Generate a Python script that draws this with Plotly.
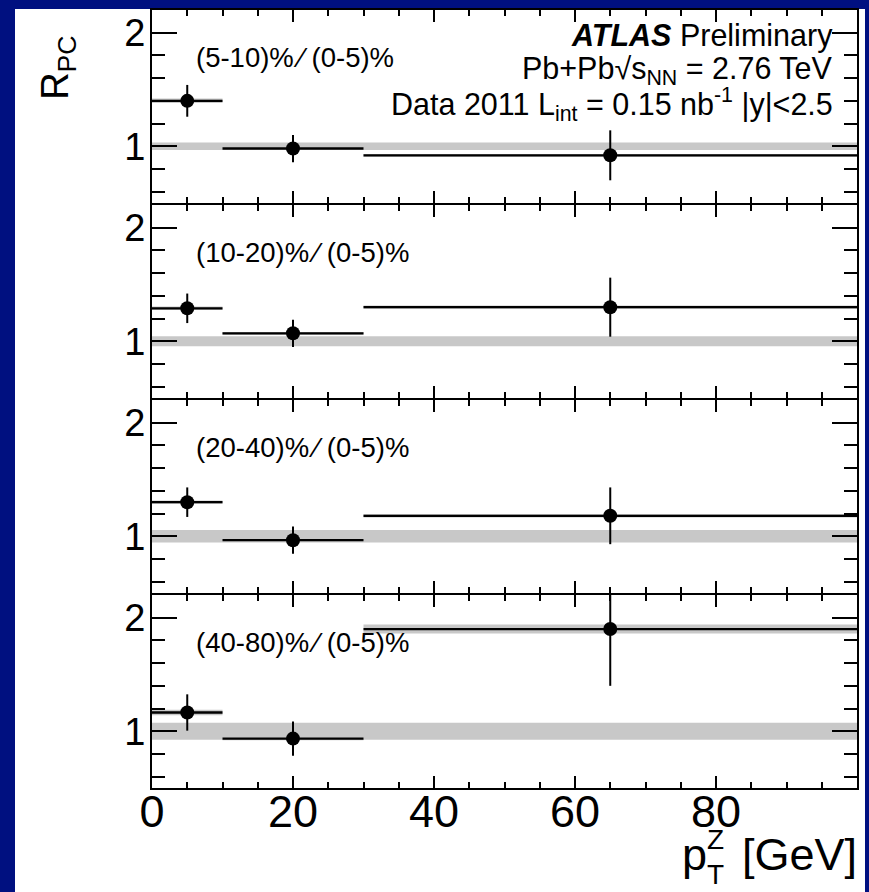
import plotly.graph_objects as go
from plotly.subplots import make_subplots

W, H = 869, 892
ML, MR, MT, MB = 152, 12, 8, 104
FONT = "Liberation Sans, Arial, Helvetica, sans-serif"

# ---- data -------------------------------------------------------------
bin_lo = [0, 10, 30]
bin_hi = [10, 30, 100]
pt_center = [5, 20, 65]

panel_labels = ["(5-10)%\u2009⁄ (0-5)%", "(10-20)%\u2009⁄ (0-5)%",
                "(20-40)%\u2009⁄ (0-5)%", "(40-80)%\u2009⁄ (0-5)%"]

rpc_5_10 = [1.40, 0.98, 0.92]
err_5_10 = [0.14, 0.12, 0.22]
sys_5_10 = [0.02, 0.012, 0.012]

rpc_10_20 = [1.29, 1.07, 1.30]
err_10_20 = [0.13, 0.12, 0.26]
sys_10_20 = [0.015, 0.012, 0.015]

rpc_20_40 = [1.30, 0.965, 1.18]
err_20_40 = [0.13, 0.12, 0.25]
sys_20_40 = [0.015, 0.012, 0.015]

rpc_40_80 = [1.165, 0.935, 1.90]
err_40_80 = [0.16, 0.15, 0.50]
sys_40_80 = [0.025, 0.015, 0.04]

norm_unc = [0.033, 0.045, 0.055, 0.074]

x_ticks = [0, 20, 40, 60, 80]
y_ticks = [1, 2]

values = [rpc_5_10, rpc_10_20, rpc_20_40, rpc_40_80]
errors = [err_5_10, err_10_20, err_20_40, err_40_80]
systs = [sys_5_10, sys_10_20, sys_20_40, sys_40_80]

# ---- figure -----------------------------------------------------------
PW = W - ML - MR
PH = H - MT - MB

fig = make_subplots(rows=4, cols=1, shared_xaxes=True,
                    vertical_spacing=2.0 / PH)

GRAY = "#c8c8c8"
for i in range(4):
    r = i + 1
    n = norm_unc[i]
    fig.add_trace(go.Scatter(
        x=[0, 100, 100, 0, 0], y=[1 - n, 1 - n, 1 + n, 1 + n, 1 - n],
        fill="toself", fillcolor=GRAY, line=dict(width=0), mode="lines",
        hoverinfo="skip", showlegend=False), row=r, col=1)
    bx, by = [], []
    for lo, hi, v, s in zip(bin_lo, bin_hi, values[i], systs[i]):
        bx += [lo, hi, hi, lo, lo, None]
        by += [v - s, v - s, v + s, v + s, v - s, None]
    fig.add_trace(go.Scatter(
        x=bx, y=by, fill="toself", fillcolor=GRAY, line=dict(width=0),
        mode="lines", hoverinfo="skip", showlegend=False), row=r, col=1)
    fig.add_trace(go.Scatter(
        x=pt_center, y=values[i], mode="markers",
        marker=dict(color="black", size=14),
        error_x=dict(type="data", symmetric=False,
                     array=[h - c for h, c in zip(bin_hi, pt_center)],
                     arrayminus=[c - l for l, c in zip(bin_lo, pt_center)],
                     color="black", thickness=2.3, width=0),
        error_y=dict(type="data", array=errors[i], color="black",
                     thickness=2, width=0),
        showlegend=False), row=r, col=1)
    fig.add_annotation(x=6, y=1.78, xref=f"x{'' if r == 1 else r}",
                       yref=f"y{'' if r == 1 else r}", text=panel_labels[i],
                       showarrow=False, xanchor="left", yanchor="middle",
                       font=dict(size=27.5, color="black", family=FONT))

fig.update_xaxes(range=[0, 100], tickmode="array", tickvals=x_ticks,
                 showline=True, linecolor="black", linewidth=2,
                 mirror="allticks", ticks="inside", ticklen=12, tickwidth=2,
                 tickcolor="black", showgrid=False, zeroline=False,
                 ticklabelstandoff=-17,
                 tickfont=dict(size=45, color="black", family=FONT),
                 minor=dict(dtick=5, tick0=0, ticks="inside", ticklen=6,
                            tickwidth=1.5, tickcolor="black", showgrid=False))
fig.update_yaxes(range=[0.5, 2.2], tickmode="array", tickvals=y_ticks,
                 showline=True, linecolor="black", linewidth=2,
                 mirror="allticks", ticks="inside", ticklen=25, tickwidth=2,
                 tickcolor="black", showgrid=False, zeroline=False,
                 ticklabelstandoff=-3,
                 tickfont=dict(size=38, color="black", family=FONT),
                 minor=dict(dtick=0.2, tick0=0, ticks="inside", ticklen=13,
                            tickwidth=1.5, tickcolor="black", showgrid=False))


def px(x):
    return (x - ML) / PW


def py(y):
    return (H - MB - y) / PH


fig.add_shape(type="rect", xref="paper", yref="paper",
              x0=px(15), x1=px(865), y0=py(905), y1=py(7),
              fillcolor="white", line=dict(width=0), layer="below")


def ann(text, x, y, size, xanchor="center", yanchor="middle", angle=0):
    fig.add_annotation(text=text, x=px(x), y=py(y), xref="paper",
                       yref="paper", showarrow=False, xanchor=xanchor,
                       yanchor=yanchor, textangle=angle,
                       font=dict(size=size, color="black", family=FONT))


ann("<b><i>ATLAS</i></b> Preliminary", 835, 34, 30.5, xanchor="right")
ann("Pb+Pb√s<sub>NN</sub> = 2.76 TeV", 835, 69, 30.5, xanchor="right")
ann("Data 2011 L<sub>int</sub> = 0.15 nb<sup>-1</sup> |y|&lt;2.5", 835, 103,
    30.5, xanchor="right")

ann("R<sub>PC</sub>", 58, 66, 38, angle=-90)
ann("[GeV]", 859, 855, 45, xanchor="right")
ann("p", 680, 855, 45, xanchor="left")
ann("Z", 715, 840, 28)
ann("T", 715, 875, 28)

fig.update_layout(width=W, height=H, margin=dict(l=ML, r=MR, t=MT, b=MB),
                  paper_bgcolor="#001080", plot_bgcolor="white",
                  font=dict(family=FONT, color="black"), showlegend=False)

fig.write_html("out.html")
